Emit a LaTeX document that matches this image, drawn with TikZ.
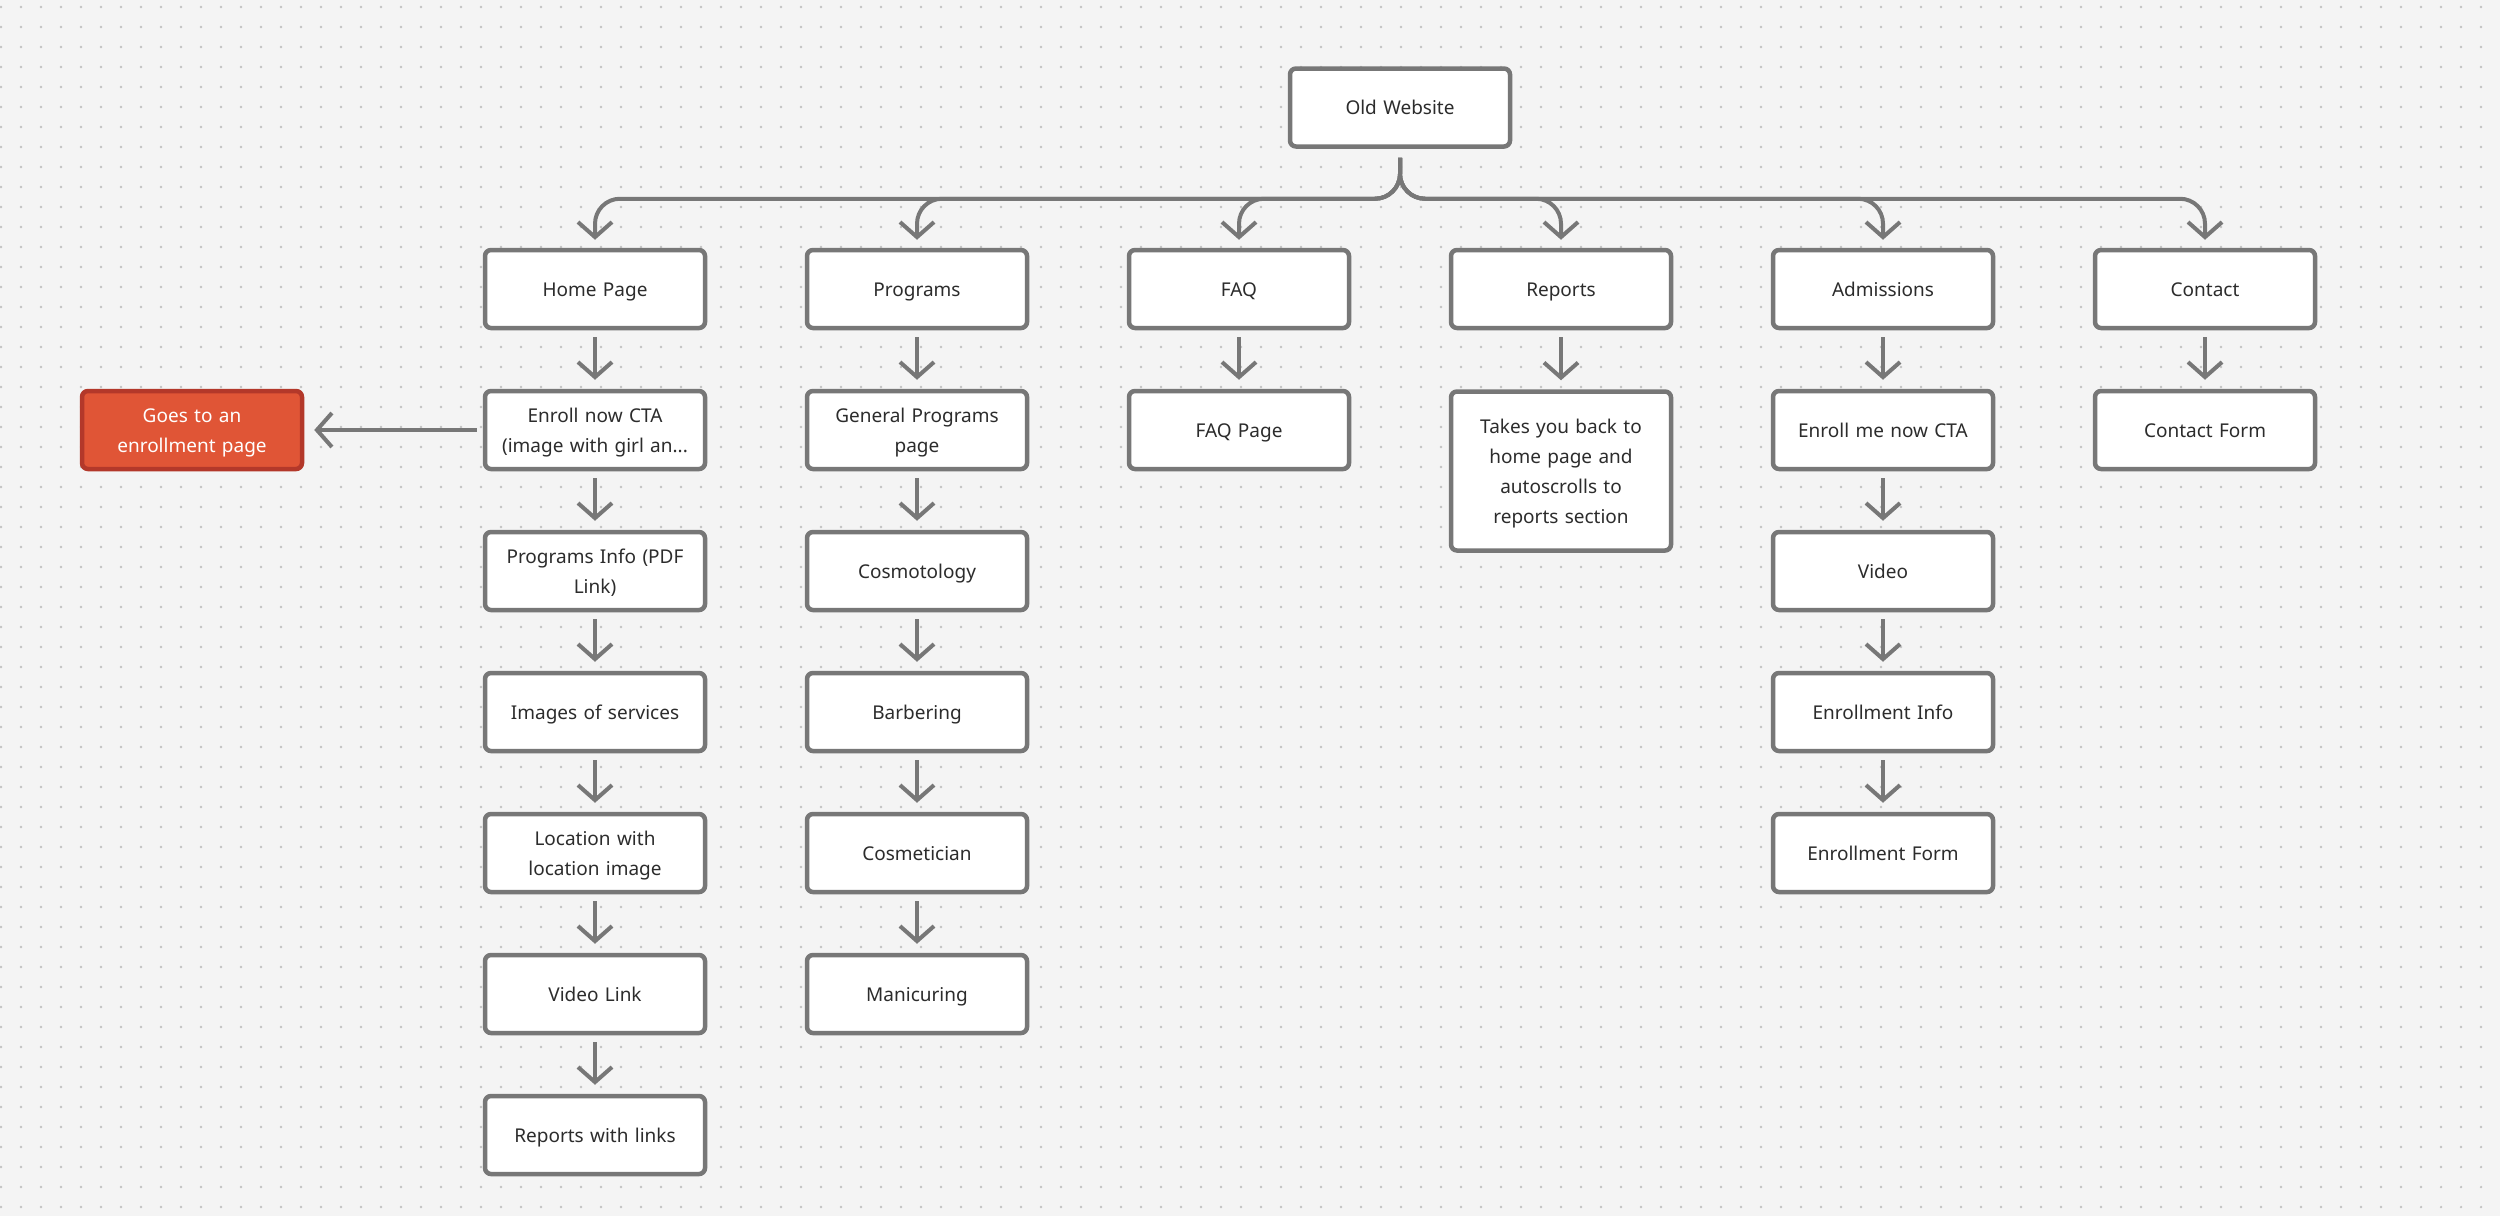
\documentclass[tikz,border=0pt]{standalone}
\usepackage{fontspec}
\setmainfont{Noto Sans}
\usetikzlibrary{arrows.meta, positioning}
\definecolor{linegray}{HTML}{777777}
\definecolor{textgray}{HTML}{2C2C2C}
\definecolor{bggray}{HTML}{F4F4F4}
\definecolor{dotgray}{HTML}{C2C2C2}
\definecolor{redfill}{HTML}{E05536}
\definecolor{reddraw}{HTML}{B3382A}
\newcommand{\pagestrut}{\rule[-8pt]{0pt}{30pt}}
\tikzstyle{page} = [rectangle, rounded corners=6pt, minimum width=220pt, minimum height=78pt, text width=205pt, align=center, draw=linegray, line width=4.5pt, fill=white, text=textgray, font=\fontsize{19}{30}\selectfont, execute at begin node=\pagestrut, execute at end node=\pagestrut]
\tikzstyle{note} = [page, draw=reddraw, fill=redfill, text=white]
\tikzstyle{arrow} = [draw=linegray, line width=4pt, -{Straight Barb[length=15pt, width=34pt]}, shorten <=7pt, shorten >=9pt]
\tikzstyle{branch} = [draw=linegray, line width=4pt, -{Straight Barb[length=15pt, width=34pt]}, rounded corners=25pt]
\tikzstyle{dots} = [draw=dotgray, line width=2.6pt, line cap=round, dash pattern=on 0pt off 20pt]

\begin{document}
\begin{tikzpicture}[node distance=141pt, x=1pt, y=1pt]

% Canvas
\useasboundingbox (0,0) rectangle (2500,-1216);
\fill [bggray] (0,0) rectangle (2500,-1216);
\foreach \r in {0,...,60}
  \draw [dots] (1,-7-20*\r) -- (2500,-7-20*\r);

% Root
\node (OW) [page] at (1400,-107.5) {Old Website};

% Top level pages
\node (HP) [page] at (595,-289) {Home Page};
\node (PR) [page] at (917,-289) {Programs};
\node (FQ) [page] at (1239,-289) {FAQ};
\node (RP) [page] at (1561,-289) {Reports};
\node (AD) [page] at (1883,-289) {Admissions};
\node (CT) [page] at (2205,-289) {Contact};

% Home page column
\node (EN) [page, below of=HP] {Enroll now CTA\\(image with girl an...};
\node (PI) [page, below of=EN] {Programs Info (PDF\\Link)};
\node (IS) [page, below of=PI] {Images of services};
\node (LO) [page, below of=IS] {Location with\\location image};
\node (VL) [page, below of=LO] {Video Link};
\node (RL) [page, below of=VL] {Reports with links};

\node (GE) [note, left of=EN, xshift=-262pt] {Goes to an\\enrollment page};

% Programs column
\node (GP) [page, below of=PR] {General Programs\\page};
\node (CO) [page, below of=GP] {Cosmotology};
\node (BA) [page, below of=CO] {Barbering};
\node (CM) [page, below of=BA] {Cosmetician};
\node (MA) [page, below of=CM] {Manicuring};

% FAQ and Reports
\node (FP) [page, below of=FQ] {FAQ Page};
\node (RB) [page, below of=RP, yshift=-41pt, minimum height=159pt] {Takes you back to\\home page and\\autoscrolls to\\reports section};

% Admissions column
\node (EM) [page, below of=AD] {Enroll me now CTA};
\node (VI) [page, below of=EM] {Video};
\node (EI) [page, below of=VI] {Enrollment Info};
\node (EF) [page, below of=EI] {Enrollment Form};

% Contact
\node (CF) [page, below of=CT] {Contact Form};

% Branches from the root
\draw [branch] ([yshift=-9pt]OW.south) -- ++(0,-41) -| ([yshift=8pt]HP.north);
\draw [branch] ([yshift=-9pt]OW.south) -- ++(0,-41) -| ([yshift=8pt]PR.north);
\draw [branch] ([yshift=-9pt]OW.south) -- ++(0,-41) -| ([yshift=8pt]FQ.north);
\draw [branch] ([yshift=-9pt]OW.south) -- ++(0,-41) -| ([yshift=8pt]RP.north);
\draw [branch] ([yshift=-9pt]OW.south) -- ++(0,-41) -| ([yshift=8pt]AD.north);
\draw [branch] ([yshift=-9pt]OW.south) -- ++(0,-41) -| ([yshift=8pt]CT.north);

% Connecting arrows
\draw [arrow] (HP) -- (EN);
\draw [arrow] (EN) -- (PI);
\draw [arrow] (PI) -- (IS);
\draw [arrow] (IS) -- (LO);
\draw [arrow] (LO) -- (VL);
\draw [arrow] (VL) -- (RL);
\draw [arrow, shorten <=6pt, shorten >=10pt] (EN) -- (GE);

\draw [arrow] (PR) -- (GP);
\draw [arrow] (GP) -- (CO);
\draw [arrow] (CO) -- (BA);
\draw [arrow] (BA) -- (CM);
\draw [arrow] (CM) -- (MA);

\draw [arrow] (FQ) -- (FP);
\draw [arrow] (RP) -- (RB);

\draw [arrow] (AD) -- (EM);
\draw [arrow] (EM) -- (VI);
\draw [arrow] (VI) -- (EI);
\draw [arrow] (EI) -- (EF);

\draw [arrow] (CT) -- (CF);

\end{tikzpicture}
\end{document}
